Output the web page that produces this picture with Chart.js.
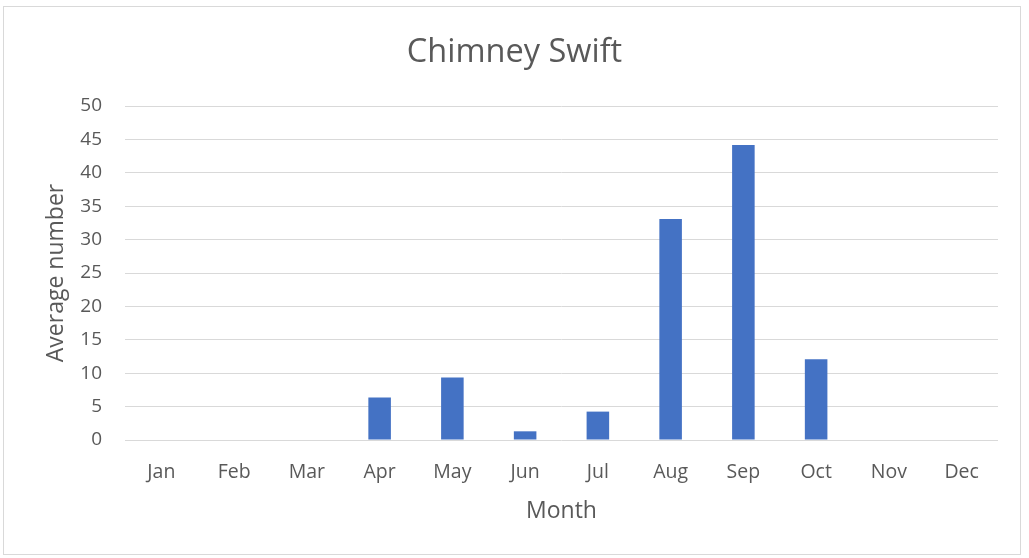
<!DOCTYPE html>
<html>
<head>
<meta charset="utf-8">
<script src="https://cdn.jsdelivr.net/npm/chart.js@4/dist/chart.umd.min.js"></script>
<style>
  html, body { margin: 0; padding: 0; background: #ffffff; }
  #wrap { position: relative; width: 1029px; height: 558px; }
  #frame { position: absolute; left: 3px; top: 6px; width: 1018px; height: 549px; border: 1px solid #d9d9d9; box-sizing: border-box; }
  canvas { position: absolute; left: 0; top: 0; }
</style>
</head>
<body>
<div id="wrap">
  <div id="frame"></div>
  <canvas id="c" width="1029" height="558"></canvas>
</div>
<script>
const chartTitle = "Chimney Swift";
const months = ["Jan","Feb","Mar","Apr","May","Jun","Jul","Aug","Sep","Oct","Nov","Dec"];
const averageNumber = [0, 0, 0, 6.35, 9.35, 1.3, 4.25, 33.1, 44.15, 12.1, 0, 0];
const yTicks = [0, 5, 10, 15, 20, 25, 30, 35, 40, 45, 50];
const xTitle = "Month";
const yTitle = "Average number";

const FONT = "'Open Sans', 'Liberation Sans', sans-serif";
const TXT = "#595959";

new Chart(document.getElementById('c'), {
  type: 'bar',
  data: {
    labels: months,
    datasets: [{
      label: yTitle,
      data: averageNumber,
      backgroundColor: '#4472c4',
      borderWidth: 0,
      barPercentage: 0.62,
      categoryPercentage: 0.5
    }]
  },
  options: {
    responsive: false,
    animation: false,
    layout: { padding: { left: 0, right: 0, top: 0, bottom: 0 } },
    plugins: {
      legend: { display: false },
      tooltip: { enabled: false },
      title: {
        display: true,
        text: chartTitle,
        color: TXT,
        font: { family: FONT, size: 32.5, weight: 'normal', lineHeight: 1.2 },
        padding: { top: 33, bottom: 34 }
      }
    },
    scales: {
      x: {
        grid: { display: false, drawTicks: false },
        border: { display: false },
        ticks: { color: TXT, font: { family: FONT, size: 19.5 }, padding: 21, maxRotation: 0 },
        title: { display: true, text: xTitle, color: TXT, font: { family: FONT, size: 23 }, padding: { top: 0, bottom: 33 } },
        afterFit: s => { s.height = 118; }
      },
      y: {
        min: 0, max: 50,
        afterBuildTicks: s => { s.ticks = yTicks.map(v => ({ value: v })); },
        grid: { color: '#d9d9d9', lineWidth: 1, drawTicks: false },
        border: { display: false },
        ticks: { color: TXT, font: { family: FONT, size: 19 }, padding: 23 },
        title: { display: true, text: yTitle, color: TXT, font: { family: FONT, size: 23 }, padding: { top: 43, bottom: 0 } },
        afterFit: s => { s.width = 125; }
      },
      spacer: {
        type: 'linear',
        position: 'right',
        min: 0, max: 50,
        grid: { display: false, drawTicks: false },
        border: { display: false },
        ticks: { display: false },
        afterFit: s => { s.width = 31; }
      }
    }
  }
});
</script>
</body>
</html>
